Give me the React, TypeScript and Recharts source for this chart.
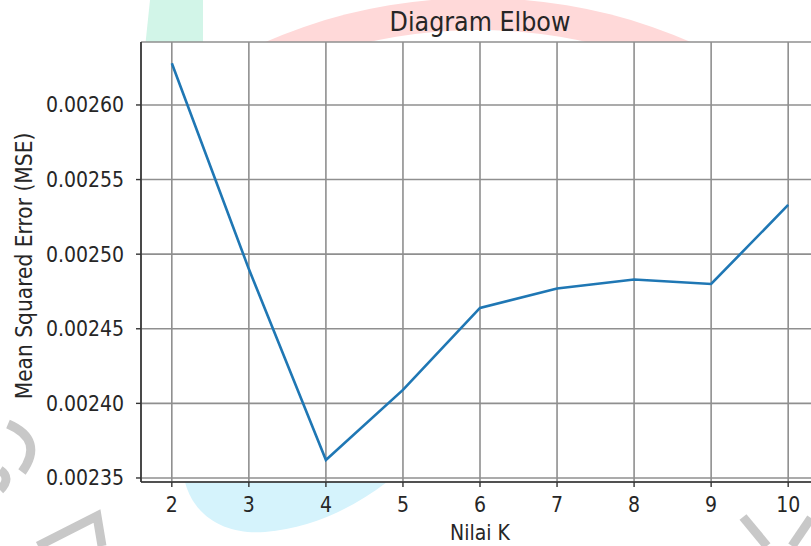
import React from "react";
import { LineChart, Line, XAxis, YAxis, CartesianGrid } from "recharts";

// Elbow curve: K vs mean squared error
const kValues = [2, 3, 4, 5, 6, 7, 8, 9, 10];
const mseValues = [0.002628, 0.00249, 0.002362, 0.002409, 0.002464, 0.002477, 0.002483, 0.00248, 0.002533];
const xTicks = [2, 3, 4, 5, 6, 7, 8, 9, 10];
const yTicks = [0.00235, 0.0024, 0.00245, 0.0025, 0.00255, 0.0026];

const FONT = "'DejaVu Sans Condensed', 'DejaVu Sans', sans-serif";
const TEXT = "#262626";

const data = kValues.map((k, i) => ({ k, mse: mseValues[i] }));

// faint watermark shapes behind the figure
function Watermark() {
  return (
    <svg width={811} height={546} style={{ position: "absolute", left: 0, top: 0 }}>
      <defs>
        <clipPath id="topband">
          <rect x={0} y={0} width={811} height={44} />
        </clipPath>
      </defs>
      <g clipPath="url(#topband)">
        <ellipse cx={478} cy={378} rx={455} ry={380} fill="#ffd9d9" />
        <ellipse cx={478} cy={382} rx={420} ry={352} fill="#ffffff" />
      </g>
      <polygon points="150,0 203,0 203,48 145,48" fill="#d2f5e8" />
      <path d="M 185 482 C 195 520, 230 535, 265 532 C 310 528, 350 510, 387 482 Z" fill="#d5f3fc" />
      <g stroke="#c8c8c8" strokeWidth={9} fill="none" strokeLinecap="butt">
        <path d="M 8 424 Q 45 440 22 472" />
        <path d="M 0 470 Q 12 478 0 490" />
        <path d="M 38 546 L 97 516 L 102 546" />
        <path d="M 743 517 L 767 546" />
        <path d="M 792 546 L 811 518" />
      </g>
      <text x={480} y={31} textAnchor="middle" fontFamily={FONT} fontStretch="condensed" fontSize={26.5} fill={TEXT}>
        Diagram Elbow
      </text>
    </svg>
  );
}

export default function App() {
  return (
    <div style={{ position: "absolute", left: 0, top: 0, width: 811, height: 546, overflow: "hidden", background: "#fff" }}>
      <Watermark />
      <div style={{ position: "absolute", left: 0, top: 0 }}>
        <LineChart width={830} height={546} data={data} margin={{ top: 42, right: 11, bottom: 0, left: 0 }}>
          <CartesianGrid stroke="#8f8f8f" strokeWidth={1.6} fill="#ffffff" fillOpacity={1} />
          <XAxis
            xAxisId="top"
            orientation="top"
            dataKey="k"
            type="number"
            domain={[1.6, 10.4]}
            height={0}
            tick={false}
            tickLine={false}
            axisLine={{ stroke: "#333", strokeWidth: 1.6 }}
          />
          <XAxis
            dataKey="k"
            type="number"
            domain={[1.6, 10.4]}
            ticks={xTicks}
            interval={0}
            height={64}
            tickSize={5}
            tickMargin={10}
            axisLine={{ stroke: "#333", strokeWidth: 1.6 }}
            tickLine={{ stroke: "#333", strokeWidth: 1.4 }}
            tick={{ fill: TEXT, fontSize: 21, fontFamily: FONT, fontStretch: "condensed" }}
            label={() => (
              <text x={480} y={540} textAnchor="middle" fontFamily={FONT} fontStretch="condensed" fontSize={21} fill={TEXT}>
                Nilai K
              </text>
            )}
          />
          <YAxis
            dataKey="mse"
            type="number"
            domain={[0.0023473, 0.0026422]}
            ticks={yTicks}
            interval={0}
            width={141}
            tickSize={5}
            tickMargin={12}
            tickFormatter={(v: number) => v.toFixed(5)}
            axisLine={{ stroke: "#333", strokeWidth: 1.6 }}
            tickLine={{ stroke: "#333", strokeWidth: 1.4 }}
            tick={{ fill: TEXT, fontSize: 21, fontFamily: FONT, fontStretch: "condensed" }}
            label={() => (
              <text
                x={32}
                y={266}
                transform="rotate(-90 32 266)"
                textAnchor="middle"
                fontFamily={FONT}
                fontStretch="condensed"
                fontSize={22.5}
                fill={TEXT}
              >
                Mean Squared Error (MSE)
              </text>
            )}
          />
          <Line
            type="linear"
            dataKey="mse"
            stroke="#1f77b4"
            strokeWidth={2.6}
            dot={false}
            activeDot={false}
            isAnimationActive={false}
          />
        </LineChart>
      </div>
    </div>
  );
}
